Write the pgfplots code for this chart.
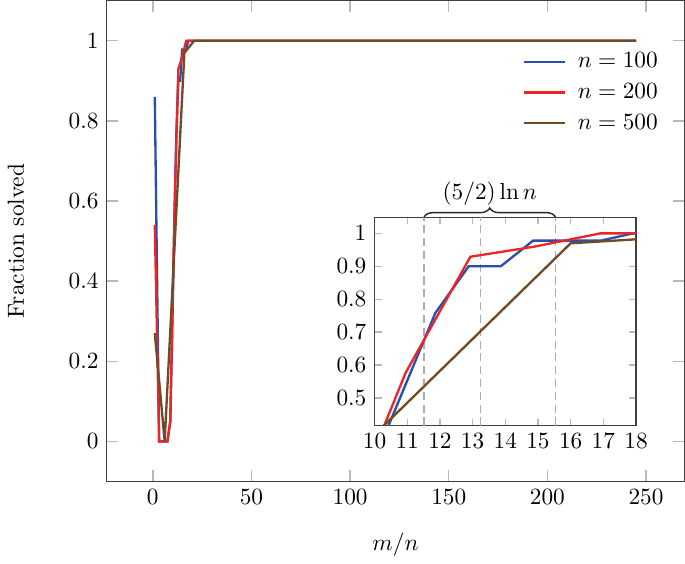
\documentclass[border=0pt]{standalone}
\usepackage{pgfplots}
\usepackage{pgfplotstable}
\pgfplotsset{compat=1.18}
\usetikzlibrary{decorations.pathreplacing}
\definecolor{cblue}{RGB}{41,79,172}
\definecolor{cred}{RGB}{236,38,40}
\definecolor{cbrown}{RGB}{112,76,38}

\pgfplotstableread{
x y
1 0.86
3.2 0
7.4 0
8.9 0.05
11.86 0.758
12.88 0.90
13.86 0.90
14.85 0.978
16.92 0.978
17.9 1.0
245 1.0
}\tblA
\pgfplotstableread{
x y
1 0.54
3.2 0
7.4 0
8.8 0.05
10.95 0.576
12.93 0.929
14.9 0.96
16.9 1.0
245 1.0
}\tblB
\pgfplotstableread{
x y
1 0.27
6 0
11 0.485
16 0.97
21 1.0
245 1.0
}\tblC

\begin{document}
\begin{tikzpicture}
\begin{axis}[
  name=main,
  scale only axis, width=248pt, height=206.4pt,
  xmin=-23.4, xmax=269.4, ymin=-0.1, ymax=1.1,
  xtick={0,50,100,150,200,250},
  ytick={0,0.2,0.4,0.6,0.8,1},
  tick align=inside, major tick length=4.7pt,
  tick style={gray!55, line width=0.6pt},
  axis line style={black!75, line width=0.6pt},
  xlabel={$m/n$}, ylabel={Fraction solved},
  xlabel style={at={(axis description cs:0.5,-0.131)}, anchor=center},
  ylabel style={at={(axis description cs:-0.157,0.5)}, anchor=center},
  legend style={at={(0.975,0.912)}, anchor=north east, draw=none, fill=white, row sep=1.2pt},
  legend image code/.code={\draw[#1, line width=1pt] (0cm,0cm) -- (0.62cm,0cm); \path (0.72cm,0cm);},
  legend cell align=left,
]
\addplot[cblue, line width=1pt] table[x=x,y=y] {\tblA};
\addlegendentry{$n=100$}
\addplot[cred, line width=1pt] table[x=x,y=y] {\tblB};
\addlegendentry{$n=200$}
\addplot[cbrown, line width=1pt] table[x=x,y=y] {\tblC};
\addlegendentry{$n=500$}
\end{axis}
\begin{axis}[
  at={(115pt,24pt)}, anchor=south west,
  scale only axis, width=112.3pt, height=89.4pt,
  xmin=10, xmax=18, ymin=0.416, ymax=1.049,
  xtick={10,11,12,13,14,15,16,17,18},
  ytick={0.5,0.6,0.7,0.8,0.9,1},
  tick align=inside, major tick length=3pt,
  tick style={gray!55, line width=0.6pt},
  axis line style={black!75, line width=0.6pt},
  axis background/.style={fill=white},
  clip mode=individual,
]
\addplot[gray!65, line width=0.6pt, dash pattern=on 3.5pt off 2pt, forget plot] coordinates {(11.51,0.416) (11.51,1.049)};
\addplot[gray!65, line width=0.6pt, dash pattern=on 3.5pt off 2pt, forget plot] coordinates {(13.25,0.416) (13.25,1.049)};
\addplot[gray!65, line width=0.6pt, dash pattern=on 3.5pt off 2pt, forget plot] coordinates {(15.54,0.416) (15.54,1.049)};
\addplot[cblue, line width=1pt] table[x=x,y=y] {\tblA};
\addplot[cred, line width=1pt] table[x=x,y=y] {\tblB};
\addplot[cbrown, line width=1pt] table[x=x,y=y] {\tblC};
\draw[decorate, decoration={brace, amplitude=4pt}, line width=0.6pt, black!85]
  (axis cs:11.51,1.049) -- (axis cs:15.54,1.049) node[midway, above=1.5pt, black] {$(5/2)\ln n$};
\end{axis}
\end{tikzpicture}
\end{document}
